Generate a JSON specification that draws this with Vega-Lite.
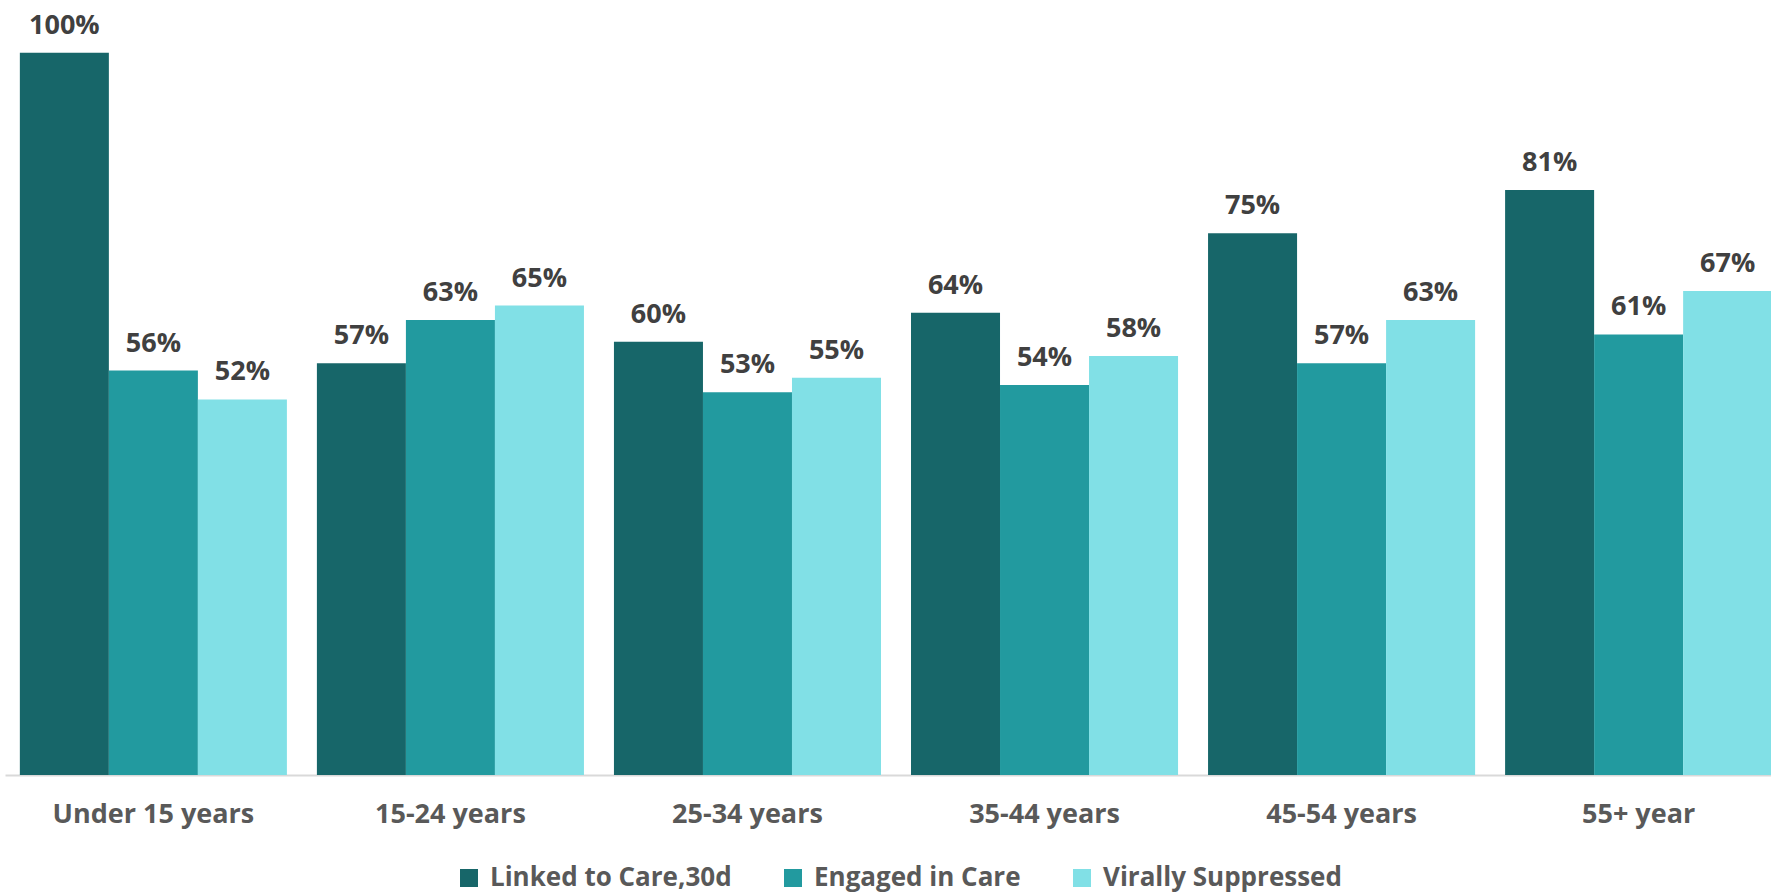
{
  "$schema": "https://vega.github.io/schema/vega-lite/v6.json",
  "width": 1766,
  "height": 775,
  "autosize": {"type": "none"},
  "padding": {"left": 5, "top": 0, "right": 0, "bottom": 118},
  "background": "white",
  "config": {"view": {"stroke": null}, "font": "Open Sans"},
  "data": {"values": [
    {"age": "Under 15 years", "measure": "Linked to Care,30d", "value": 1.00},
    {"age": "Under 15 years", "measure": "Engaged in Care", "value": 0.56},
    {"age": "Under 15 years", "measure": "Virally Suppressed", "value": 0.52},
    {"age": "15-24 years", "measure": "Linked to Care,30d", "value": 0.57},
    {"age": "15-24 years", "measure": "Engaged in Care", "value": 0.63},
    {"age": "15-24 years", "measure": "Virally Suppressed", "value": 0.65},
    {"age": "25-34 years", "measure": "Linked to Care,30d", "value": 0.60},
    {"age": "25-34 years", "measure": "Engaged in Care", "value": 0.53},
    {"age": "25-34 years", "measure": "Virally Suppressed", "value": 0.55},
    {"age": "35-44 years", "measure": "Linked to Care,30d", "value": 0.64},
    {"age": "35-44 years", "measure": "Engaged in Care", "value": 0.54},
    {"age": "35-44 years", "measure": "Virally Suppressed", "value": 0.58},
    {"age": "45-54 years", "measure": "Linked to Care,30d", "value": 0.75},
    {"age": "45-54 years", "measure": "Engaged in Care", "value": 0.57},
    {"age": "45-54 years", "measure": "Virally Suppressed", "value": 0.63},
    {"age": "55+ year", "measure": "Linked to Care,30d", "value": 0.81},
    {"age": "55+ year", "measure": "Engaged in Care", "value": 0.61},
    {"age": "55+ year", "measure": "Virally Suppressed", "value": 0.67}
  ]},
  "encoding": {
    "x": {
      "field": "age", "type": "nominal", "sort": null,
      "scale": {"range": [0, 1782], "paddingInner": 0.101, "paddingOuter": 0.05},
      "axis": {
        "title": null, "labelAngle": 0, "ticks": false,
        "domainColor": "#D9D9D9", "domainWidth": 2,
        "labelFont": "Open Sans", "labelFontWeight": "bold", "labelFontSize": 27,
        "labelColor": "#595959", "labelPadding": 26, "labelLimit": 0
      }
    },
    "xOffset": {"field": "measure", "type": "nominal", "sort": ["Linked to Care,30d", "Engaged in Care", "Virally Suppressed"], "scale": {"paddingInner": 0, "paddingOuter": 0}},
    "y": {"field": "value", "type": "quantitative", "scale": {"domain": [0, 1.073], "nice": false}, "axis": null}
  },
  "layer": [
    {
      "mark": {"type": "bar"},
      "encoding": {
        "color": {
          "field": "measure", "type": "nominal",
          "sort": ["Linked to Care,30d", "Engaged in Care", "Virally Suppressed"],
          "scale": {"domain": ["Linked to Care,30d", "Engaged in Care", "Virally Suppressed"], "range": ["#176669", "#229A9F", "#81E0E6"]},
          "legend": {
            "title": null, "orient": "none", "direction": "horizontal",
            "legendX": 451, "legendY": 865, "padding": 0,
            "symbolType": "square", "symbolSize": 324, "symbolStrokeWidth": 0,
            "labelFont": "Open Sans", "labelFontWeight": "bold", "labelFontSize": 26,
            "labelColor": "#595959", "labelOffset": 8, "columnPadding": 48, "labelLimit": 0
          }
        }
      }
    },
    {
      "mark": {"type": "text", "dy": -19, "baseline": "alphabetic", "font": "Open Sans", "fontWeight": "bold", "fontSize": 27, "color": "#404040"},
      "encoding": {
        "text": {"field": "value", "type": "quantitative", "format": ".0%"},
        "detail": {"field": "measure"}
      }
    }
  ]
}
